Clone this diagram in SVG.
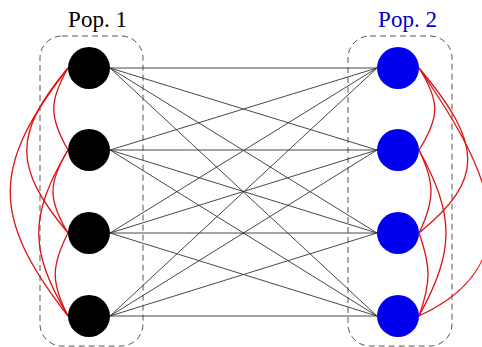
<svg xmlns="http://www.w3.org/2000/svg" width="482" height="347" viewBox="0 0 482 347">
<style>
.box{fill:none;stroke:#555;stroke-width:1;stroke-dasharray:6 4}
.e{stroke:#333;stroke-width:0.9;fill:none}
.r{stroke:#dd1111;stroke-width:1.3;fill:none}
.lbl{font-family:"Liberation Serif","Times New Roman",serif;font-size:23px;text-anchor:middle}
.n1{fill:#000}
.n2{fill:#0000ee}
</style>
<rect fill="#fff" x="0" y="0" width="482" height="347"/>
<g id="pop1">
<rect class="box" x="40" y="36" width="103" height="310" rx="22"/>
<text class="lbl" x="97.5" y="27" fill="#000">Pop. 1</text>
</g>
<g id="pop2">
<rect class="box" x="348" y="36" width="104" height="310" rx="22"/>
<text class="lbl" x="407.5" y="27" fill="#0000cc">Pop. 2</text>
</g>
<g id="connectors">
<g class="e">
<path d="M110 68L377 68M110 68L377 150M110 68L377 233M110 68L377 316"/>
<path d="M110 150L377 68M110 150L377 150M110 150L377 233M110 150L377 316"/>
<path d="M110 233L377 68M110 233L377 150M110 233L377 233M110 233L377 316"/>
<path d="M110 316L377 68M110 316L377 150M110 316L377 233M110 316L377 316"/>
</g>
<g class="r">
<path d="M68 68C49 101 49 117 68 150"/>
<path d="M68 68C13 134 13 167 68 233"/>
<path d="M68 68C-9 167 -9 217 68 316"/>
<path d="M68 150C48 183 48 200 68 233"/>
<path d="M68 150C29 216 29 250 68 316"/>
<path d="M68 233C51 266 51 283 68 316"/>
<path d="M419 68C440 101 440 117 419 150"/>
<path d="M419 68C484 145 484 180 419 233"/>
<path d="M419 68C482 160 540 260 419 316"/>
<path d="M419 150C435 183 435 200 419 233"/>
<path d="M419 150C455 216 455 250 419 316"/>
<path d="M419 233C431 266 431 283 419 316"/>
</g>
</g>
<g id="p1n1"><circle class="n1" cx="89" cy="68" r="21"/></g>
<g id="p1n2"><circle class="n1" cx="89" cy="150" r="21"/></g>
<g id="p1n3"><circle class="n1" cx="89" cy="233" r="21"/></g>
<g id="p1n4"><circle class="n1" cx="89" cy="316" r="21"/></g>
<g id="p2n1"><circle class="n2" cx="398" cy="68" r="21"/></g>
<g id="p2n2"><circle class="n2" cx="398" cy="150" r="21"/></g>
<g id="p2n3"><circle class="n2" cx="398" cy="233" r="21"/></g>
<g id="p2n4"><circle class="n2" cx="398" cy="316" r="21"/></g>
</svg>
